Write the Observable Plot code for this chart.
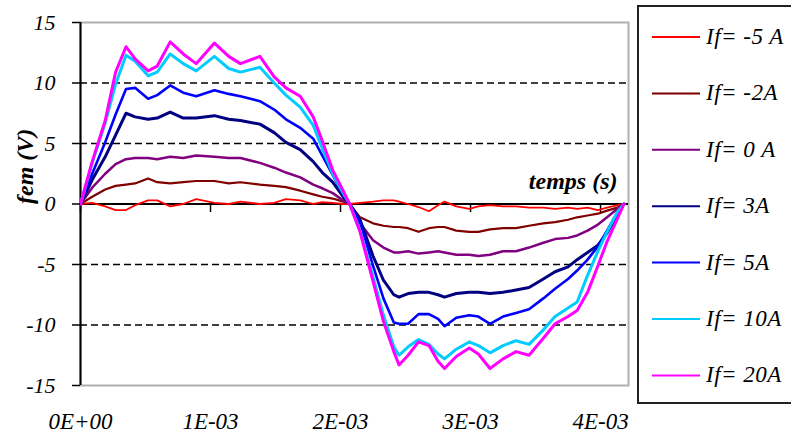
<!DOCTYPE html>
<html>
<head>
<meta charset="utf-8">
<script src="https://cdn.jsdelivr.net/npm/d3@7"></script>
<script src="https://cdn.jsdelivr.net/npm/@observablehq/plot@0.6"></script>
<style>
html, body { margin: 0; padding: 0; background: #fff; }
#wrap { position: relative; width: 791px; height: 434px; overflow: hidden; }
#wrap svg, #wrap svg text { font-family: 'Liberation Serif', 'Times New Roman', Times, 'DejaVu Serif', serif !important; }
</style>
</head>
<body>
<div id="wrap"></div>
<script>
// time in milliseconds (axis labelled in seconds)
const timeMs = [0,0.09,0.19,0.27,0.35,0.42,0.52,0.59,0.69,0.79,0.89,1.03,1.14,1.23,1.38,1.49,1.58,1.69,1.79,1.86,1.94,2.02,2.07,2.15,2.25,2.33,2.41,2.45,2.52,2.60,2.68,2.75,2.80,2.89,2.99,3.06,3.15,3.25,3.35,3.45,3.56,3.65,3.75,3.82,3.90,3.98,4.05,4.13,4.18];

const seriesNames = ["If= -5 A", "If= -2A", "If= 0 A", "If= 3A", "If= 5A", "If= 10A", "If= 20A"];
const seriesColors = ["#ff0000", "#800000", "#800080", "#000080", "#0000ff", "#00ccff", "#ff00ff"];

const femM5 = [0,0.1,-0.2,-0.5,-0.5,-0.1,0.3,0.3,-0.2,0.0,0.4,0.1,0.0,0.2,0.0,0.1,0.4,0.3,0.0,0.15,0.1,0.0,0,0.1,0.2,0.3,0.3,0.2,0.0,-0.25,-0.6,-0.1,0.2,-0.2,-0.4,-0.2,-0.1,-0.2,-0.2,-0.3,-0.3,-0.4,-0.3,-0.4,-0.3,-0.5,-0.3,-0.1,0];
const femM2 = [0,0.6,1.2,1.5,1.6,1.7,2.1,1.8,1.7,1.8,1.9,1.9,1.7,1.8,1.6,1.5,1.4,1.1,0.8,0.6,0.45,0.2,0,-1.1,-1.6,-1.8,-1.9,-1.9,-2.0,-2.3,-2.0,-1.9,-1.9,-2.2,-2.3,-2.3,-2.1,-2.0,-2.0,-1.8,-1.6,-1.5,-1.3,-1.1,-0.95,-0.8,-0.55,-0.3,0];
const fem0 = [0,1.35,2.5,3.3,3.7,3.8,3.8,3.7,3.9,3.8,4.0,3.9,3.8,3.8,3.4,3.0,2.6,2.2,1.6,1.3,0.9,0.3,0,-1.6,-3.0,-3.6,-4.0,-4.0,-3.9,-4.1,-4.0,-3.9,-4.0,-4.2,-4.2,-4.3,-4.2,-3.9,-3.9,-3.6,-3.2,-2.9,-2.8,-2.6,-2.2,-1.7,-1.1,-0.4,0];
const fem3 = [0,2.0,3.9,5.7,7.5,7.2,7.0,7.1,7.6,7.1,7.1,7.3,7.0,6.9,6.6,5.9,5.1,4.5,3.5,2.6,1.8,0.6,0,-1.3,-4.3,-6.3,-7.5,-7.7,-7.4,-7.3,-7.3,-7.5,-7.7,-7.4,-7.3,-7.3,-7.4,-7.3,-7.1,-6.9,-6.2,-5.6,-5.2,-4.6,-4.0,-3.4,-2.4,-0.9,0];
const fem5 = [0,2.5,5.1,7.4,9.5,9.6,8.7,9.0,9.8,9.2,8.9,9.4,9.1,8.9,8.5,7.8,7.0,6.3,5.4,4.0,2.4,0.8,0,-1.5,-5.1,-7.8,-9.8,-9.9,-9.9,-9.1,-9.1,-9.5,-10.1,-9.4,-9.2,-9.3,-9.9,-9.3,-9.0,-8.7,-7.8,-7.0,-6.2,-5.5,-4.6,-3.5,-2.2,-0.7,0];
const fem10 = [0,3.4,6.7,9.9,12.3,11.8,10.6,10.9,12.4,11.6,11.0,12.2,11.2,10.9,11.3,10.0,9.0,8.0,6.5,4.6,2.5,0.9,0,-2.2,-6.0,-9.2,-11.8,-12.5,-11.8,-11.2,-11.6,-12.4,-12.8,-12.0,-11.4,-11.7,-12.3,-11.7,-11.3,-11.6,-10.4,-9.3,-8.6,-8.1,-5.9,-3.9,-2.3,-0.65,0];
const fem20 = [0,3.5,6.9,10.9,13.0,12.0,11.0,11.4,13.4,12.4,11.6,13.3,12.2,11.6,12.2,10.5,9.6,8.9,7.2,5.2,2.8,1.1,0,-2.3,-6.4,-9.7,-12.2,-13.3,-12.5,-11.4,-11.7,-13.0,-13.6,-12.6,-11.9,-12.4,-13.6,-12.8,-12.2,-12.5,-11.1,-9.9,-9.3,-8.8,-7.3,-5.1,-3.1,-1.2,0];

const seriesValues = [femM5, femM2, fem0, fem3, fem5, fem10, fem20];
const seriesWidths = [1.8, 2.2, 2.5, 3, 2.6, 3, 3];

const xTicks = [0, 1, 2, 3, 4];
const xTickLabels = ["0E+00", "1E-03", "2E-03", "3E-03", "4E-03"];
const yTicks = [-15, -10, -5, 0, 5, 10, 15];
const gridValues = [10, 5, -5, -10];
const xLabel = "temps (s)";
const yLabel = "fem (V)";

const rows = seriesNames.map((name, i) =>
  seriesValues[i].map((v, j) => ({ t: timeMs[j], v, s: name }))
);

const tickDown = { draw(ctx) { ctx.moveTo(0, 0); ctx.lineTo(0, 8); } };
const serif = "'Liberation Serif', 'Times New Roman', Times, 'DejaVu Serif', serif";

const chart = Plot.plot({
  width: 791,
  height: 434,
  marginLeft: 80,
  marginRight: 163,
  marginTop: 22,
  marginBottom: 49,
  x: { domain: [0, 4.215], label: null },
  y: { domain: [-15, 15], label: null },
  style: { fontFamily: serif, fontStyle: "italic", fontSize: "22px", color: "black", background: "white" },
  marks: [
    Plot.frame({ stroke: "#b0b0b0", strokeWidth: 2 }),
    Plot.ruleY(gridValues, { stroke: "black", strokeWidth: 1.6, strokeDasharray: "7,4" }),
    Plot.ruleY([0], { stroke: "black", strokeWidth: 2 }),
    Plot.ruleX([0], { stroke: "black", strokeWidth: 2 }),
    Plot.dot(xTicks, { x: d => d, y: () => 0, symbol: tickDown, stroke: "black", strokeWidth: 1.5, fill: "none" }),
    ...rows.map((r, i) => Plot.line(r, { x: "t", y: "v", stroke: seriesColors[i], strokeWidth: seriesWidths[i] })),
    Plot.axisY({ ticks: yTicks, tickSize: 8, tickPadding: 17, tickFormat: d => String(d), fontSize: 22, strokeWidth: 1.5, label: null }),
    Plot.axisX({ ticks: xTicks, tickSize: 0, tickPadding: 27, tickFormat: d => xTickLabels[xTicks.indexOf(d)], fontSize: 23, label: null }),
    Plot.text([yLabel], { frameAnchor: "left", dx: -55, rotate: -90, fontWeight: "bold", fontSize: 24 }),
    Plot.text([xLabel], { y: () => 0, frameAnchor: "right", textAnchor: "end", dx: -11, dy: -23, fontWeight: "bold", fontSize: 24 })
  ]
});
document.getElementById("wrap").appendChild(chart);

// legend
const leg = d3.select("#wrap").append("svg")
  .attr("width", 791).attr("height", 434)
  .style("position", "absolute").style("left", "0px").style("top", "0px")
  .style("pointer-events", "none");
leg.append("rect").attr("x", 638).attr("y", 6).attr("width", 170).attr("height", 397)
  .attr("fill", "white").attr("stroke", "#222").attr("stroke-width", 2);
seriesNames.forEach((name, i) => {
  const yy = 37 + i * 56.4;
  leg.append("line").attr("x1", 652).attr("x2", 700).attr("y1", yy).attr("y2", yy)
    .attr("stroke", seriesColors[i]).attr("stroke-width", 2);
  leg.append("text").attr("x", 706).attr("y", yy + 7)
    .style("font-family", serif)
    .attr("font-style", "italic").attr("font-size", 23).attr("letter-spacing", 0.5)
    .attr("fill", "black").text(name);
});
</script>
</body>
</html>
